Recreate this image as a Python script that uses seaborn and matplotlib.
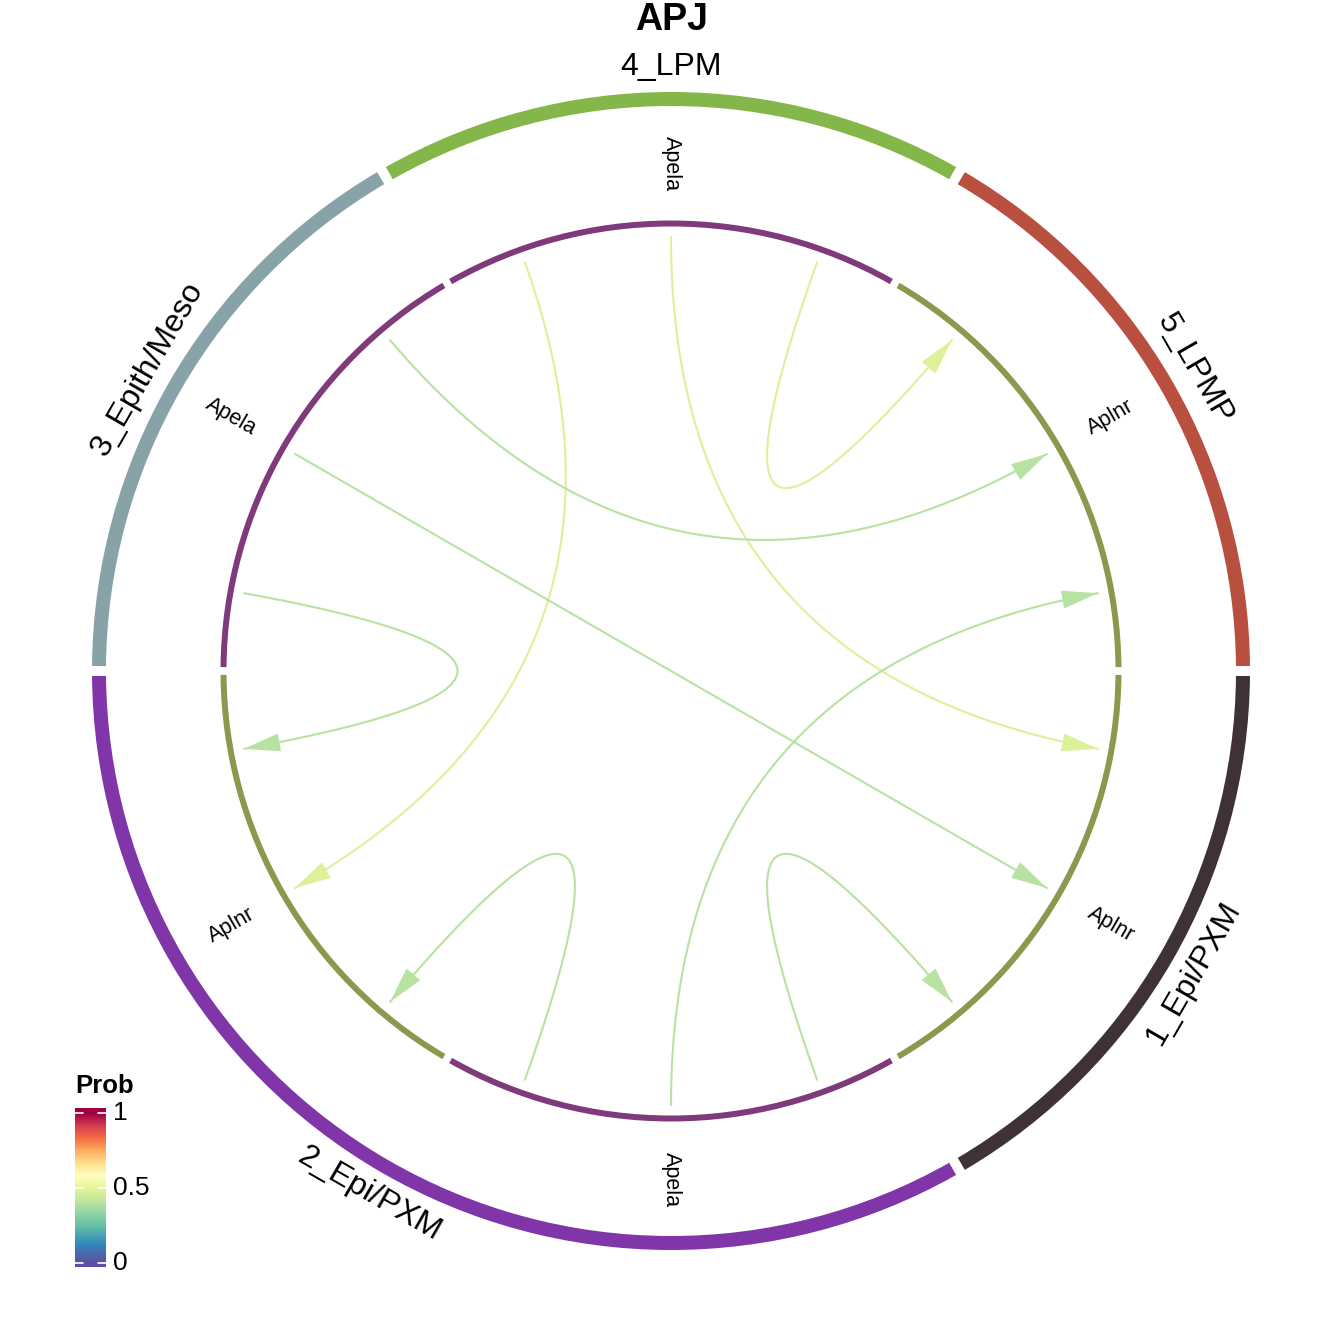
import numpy as np
import matplotlib
matplotlib.use("Agg")
import matplotlib.pyplot as plt
from matplotlib.patches import Wedge, Polygon
from matplotlib.colors import LinearSegmentedColormap, Normalize
import seaborn as sns

# cell groups (outer ring), clockwise from 3 o'clock
groups = ["1_Epi/PXM", "2_Epi/PXM", "3_Epith/Meso", "4_LPM", "5_LPMP"]
group_colors = ["#3F3236", "#8035A8", "#87A3A7", "#84B749", "#B84F3F"]

# inner tracks (ligand / receptor per group), clockwise from 3 o'clock
track_group = ["1_Epi/PXM", "2_Epi/PXM", "2_Epi/PXM", "3_Epith/Meso", "4_LPM", "5_LPMP"]
track_gene = ["Aplnr", "Apela", "Aplnr", "Apela", "Apela", "Aplnr"]
gene_colors = {"Apela": "#7E3A7B", "Aplnr": "#899A4E"}

# links: Apela (source group) -> Aplnr (target group)
src = ["4_LPM", "4_LPM", "4_LPM", "3_Epith/Meso", "3_Epith/Meso", "3_Epith/Meso",
       "2_Epi/PXM", "2_Epi/PXM", "2_Epi/PXM"]
tgt = ["2_Epi/PXM", "1_Epi/PXM", "5_LPMP", "5_LPMP", "1_Epi/PXM", "2_Epi/PXM",
       "2_Epi/PXM", "5_LPMP", "1_Epi/PXM"]
src_rank = [0, 1, 2, 2, 1, 0, 2, 1, 0]   # order inside the sender track (clockwise)
tgt_rank = [1, 0, 0, 1, 1, 2, 0, 2, 2]   # order inside the receiver track (clockwise)
prob = [0.48, 0.48, 0.48, 0.40, 0.40, 0.40, 0.40, 0.40, 0.40]

cb_ticks = [0, 0.5, 1]
cb_labels = ["0", "0.5", "1"]

# colour scale (brewer Spectral, reversed)
spectral = ["#5E4FA2", "#3288BD", "#66C2A5", "#ABDDA4", "#E6F598", "#FFFFBF",
            "#FEE08B", "#FDAE61", "#F46D43", "#D53E4F", "#9E0142"]
cpos = [0, .125, .25, .375, .5, .583, .667, .75, .833, .917, 1]
cmap = LinearSegmentedColormap.from_list("prob", list(zip(cpos, spectral)))
norm = Normalize(0, 1)

sns.set_theme(style="white")
plt.rcParams["font.family"] = ["Liberation Sans", "DejaVu Sans"]
plt.rcParams["text.color"] = "black"

# geometry (pixels)
R_OUT, W_OUT = 579, 14
R_IN, W_IN = 450.5, 6
R_LINK = 434
R_GENE_LAB = 508
R_GRP_LAB = 604
GAP, SEG = 1.0, 59.0

fig = plt.figure(figsize=(13.44, 13.44), dpi=100)
ax = fig.add_axes([0, 0, 1, 1])

track_start = [-GAP / 2 - i * (SEG + GAP) for i in range(len(track_group))]
track_end = [s - SEG for s in track_start]


def norm_ang(a):
    a = (a + 180) % 360 - 180
    return 180.0 if a == -180 else a


# outer ring
for g, col in zip(groups, group_colors):
    idx = [i for i, tg in enumerate(track_group) if tg == g]
    a0 = max(track_start[i] for i in idx)
    a1 = min(track_end[i] for i in idx)
    ax.add_patch(Wedge((0, 0), R_OUT, a1, a0, width=W_OUT, color=col, lw=0))
    mid = norm_ang((a0 + a1) / 2)
    rot = mid - 90 if mid > 0 else mid + 90
    ax.text(R_GRP_LAB * np.cos(np.radians(mid)), R_GRP_LAB * np.sin(np.radians(mid)), g,
            fontsize=23, rotation=rot, ha="center", va="center", rotation_mode="anchor")

# inner ring
for i, (g, gene) in enumerate(zip(track_group, track_gene)):
    ax.add_patch(Wedge((0, 0), R_IN, track_end[i], track_start[i], width=W_IN,
                       color=gene_colors[gene], lw=0))
    mid = norm_ang((track_start[i] + track_end[i]) / 2)
    rot = mid if -90 <= mid < 90 else (mid - 180 if mid >= 90 else mid + 180)
    ax.text(R_GENE_LAB * np.cos(np.radians(mid)), R_GENE_LAB * np.sin(np.radians(mid)), gene,
            fontsize=15.5, rotation=rot, ha="center", va="center", rotation_mode="anchor")


def slot_angle(group, gene, rank):
    i = [k for k in range(len(track_group)) if track_group[k] == group and track_gene[k] == gene][0]
    return track_start[i] - (rank + 0.5) * SEG / 3


t = np.linspace(0, 1, 200)
for s, d, rs, rd, p in zip(src, tgt, src_rank, tgt_rank, prob):
    a0 = np.radians(slot_angle(s, "Apela", rs))
    a1 = np.radians(slot_angle(d, "Aplnr", rd))
    p0 = np.array([np.cos(a0), np.sin(a0)]) * R_LINK
    p3 = np.array([np.cos(a1), np.sin(a1)]) * R_LINK
    # quadratic bezier through the centre
    xs = (1 - t) ** 2 * p0[0] + t ** 2 * p3[0]
    ys = (1 - t) ** 2 * p0[1] + t ** 2 * p3[1]
    col = cmap(norm(p))
    sns.lineplot(x=xs, y=ys, sort=False, estimator=None, color=col, linewidth=1.5, ax=ax)
    u = p3 / np.linalg.norm(p3)
    n = np.array([-u[1], u[0]])
    base = p3 - 36 * u
    ax.add_patch(Polygon([p3, base + 9 * n, base - 9 * n], closed=True, color=col, lw=0))

ax.set_xlim(-671, 673)
ax.set_ylim(-673, 671)
ax.set_aspect("equal")
ax.axis("off")

fig.text(0.5, 1 - 20 / 1344, "APJ", fontsize=27, fontweight="bold", ha="center", va="center")

# colour bar
lo, hi = -4 / 150, 1 + 5 / 150
cax = fig.add_axes([75 / 1344, (1344 - 1267) / 1344, 31 / 1344, 159 / 1344])
grad = np.linspace(lo, hi, 300).reshape(-1, 1)
cax.imshow(np.clip(grad, 0, 1), cmap=cmap, norm=norm, aspect="auto", origin="lower",
           extent=[0, 1, lo, hi])
for v, lab in zip(cb_ticks, cb_labels):
    cax.plot([0, 0.27], [v, v], color="white", lw=1.2)
    cax.plot([0.73, 1], [v, v], color="white", lw=1.2)
    cax.text(1.22, v, lab, fontsize=19, ha="left", va="center", clip_on=False)
cax.set_xlim(0, 1)
cax.set_ylim(lo, hi)
cax.axis("off")
fig.text(75 / 1344, 1 - 1086 / 1344, "Prob", fontsize=18.5, fontweight="bold", ha="left", va="center")

fig.savefig("out.png", dpi=100, facecolor="white")
